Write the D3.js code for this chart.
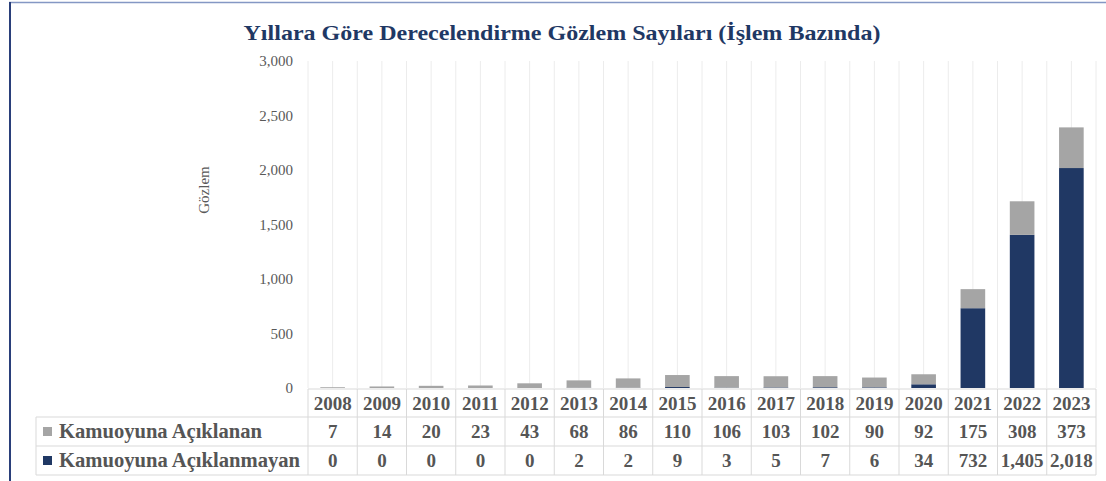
<!DOCTYPE html>
<html><head><meta charset="utf-8">
<script src="https://cdn.jsdelivr.net/npm/d3@7"></script>
<style>
html,body{margin:0;padding:0;background:#fff;}
svg{display:block;}
</style></head>
<body>
<svg id="c" width="1106" height="481" font-family="Liberation Serif, DejaVu Serif, serif"></svg>
<script>
const years = ["2008","2009","2010","2011","2012","2013","2014","2015","2016","2017","2018","2019","2020","2021","2022","2023"];
const disclosed = [7,14,20,23,43,68,86,110,106,103,102,90,92,175,308,373];
const undisclosed = [0,0,0,0,0,2,2,9,3,5,7,6,34,732,1405,2018];
const yTicks = [0,500,1000,1500,2000,2500,3000];
const seriesNames = ["Kamuoyuna Açıklanan","Kamuoyuna Açıklanmayan"];
const colors = {"Kamuoyuna Açıklanan":"#a5a5a5","Kamuoyuna Açıklanmayan":"#203864"};
const title = "Yıllara Göre Derecelendirme Gözlem Sayıları (İşlem Bazında)";
const yTitle = "Gözlem";

const FONT = "Liberation Serif, DejaVu Serif, serif";
const svg = d3.select("#c");
const W = 1106, H = 481;
const L = 308, R = 1096, T = 61, B = 388;

// frame
svg.append("line").attr("x1",9).attr("x2",W).attr("y1",2.5).attr("y2",2.5).attr("stroke","#8497c4").attr("stroke-width",1.5);
svg.append("line").attr("x1",10).attr("x2",10).attr("y1",2).attr("y2",H).attr("stroke","#2a3f7a").attr("stroke-width",2);

// title
svg.append("text").attr("x",562).attr("y",40).attr("text-anchor","middle")
  .attr("font-size",22).attr("font-weight","bold").attr("fill","#1f3864")
  .attr("textLength",637).attr("lengthAdjust","spacingAndGlyphs").text(title);

const x = d3.scaleBand().domain(years).range([L,R]).paddingInner(0.5).paddingOuter(0.25);
const y = d3.scaleLinear().domain([0,3000]).range([B,T]);
const step = x.step();

// vertical gridlines at boundaries and centers
const gx = [];
years.forEach((yr,i)=>{ gx.push(L + i*step); gx.push(L + i*step + step/2); });
gx.push(R);
svg.append("g").selectAll("line").data(gx).join("line")
  .attr("x1",d=>d).attr("x2",d=>d).attr("y1",y(3000)).attr("y2",B)
  .attr("stroke","#ececec").attr("stroke-width",1);

// y axis labels
const yAxis = d3.axisLeft(y).tickValues(yTicks).tickFormat(d3.format(",")).tickSize(0).tickPadding(0);
const ga = svg.append("g").attr("transform",`translate(${L-15},0)`).call(yAxis)
  .attr("font-family",FONT).attr("font-size",15);
ga.select(".domain").remove();
ga.selectAll("text").attr("fill","#595959").attr("dy","0.3em");

svg.append("text").attr("transform",`translate(209,190) rotate(-90)`).attr("text-anchor","middle")
  .attr("font-size",15).attr("fill","#595959").text(yTitle);

// stacked bars
const rows = years.map((yr,i)=>({year:yr,"Kamuoyuna Açıklanmayan":undisclosed[i],"Kamuoyuna Açıklanan":disclosed[i]}));
const stack = d3.stack().keys(["Kamuoyuna Açıklanmayan","Kamuoyuna Açıklanan"])(rows);
svg.append("g").selectAll("g").data(stack).join("g")
  .attr("fill",d=>colors[d.key])
  .selectAll("rect").data(d=>d).join("rect")
  .attr("x",d=>x(d.data.year)).attr("width",x.bandwidth())
  .attr("y",d=>y(d[1])).attr("height",d=>y(d[0])-y(d[1]));

// data table
const rowsY = [389,417,446,475];
const tblLeft = 36;
const g = svg.append("g");
const bc = "#d9d9d9";
g.append("line").attr("x1",L).attr("x2",R).attr("y1",rowsY[0]).attr("y2",rowsY[0]).attr("stroke",bc);
[1,2,3].forEach(k=>g.append("line").attr("x1",tblLeft).attr("x2",R).attr("y1",rowsY[k]).attr("y2",rowsY[k]).attr("stroke",bc));
for(let i=0;i<=years.length;i++){
  const xx = L + i*step;
  g.append("line").attr("x1",xx).attr("x2",xx).attr("y1",rowsY[0]).attr("y2",rowsY[3]).attr("stroke",bc);
}
g.append("line").attr("x1",tblLeft).attr("x2",tblLeft).attr("y1",rowsY[1]).attr("y2",rowsY[3]).attr("stroke",bc);

const cellFont = 19;
const tc = "#555555";
g.selectAll("text.yr").data(years).join("text").attr("class","yr")
  .attr("x",d=>x(d)+x.bandwidth()/2).attr("y",(rowsY[0]+rowsY[1])/2+6.5)
  .attr("text-anchor","middle").attr("font-size",cellFont).attr("font-weight","bold").attr("fill",tc).text(d=>d);
const fmt = d3.format(",");
const labelLen = [203, 241];
[disclosed, undisclosed].forEach((arr,k)=>{
  g.selectAll("text.v"+k).data(arr).join("text").attr("class","v"+k)
    .attr("x",(d,i)=>x(years[i])+x.bandwidth()/2).attr("y",(rowsY[k+1]+rowsY[k+2])/2+6.5)
    .attr("text-anchor","middle").attr("font-size",cellFont).attr("font-weight","bold").attr("fill",tc)
    .text(d=>fmt(d))
    .each(function(){ const w=this.getComputedTextLength(); if(w>46){ d3.select(this).attr("textLength",46).attr("lengthAdjust","spacingAndGlyphs"); } });
  const cy = (rowsY[k+1]+rowsY[k+2])/2;
  g.append("rect").attr("x",43).attr("y",cy-4.5).attr("width",9).attr("height",9).attr("fill",colors[seriesNames[k]]);
  g.append("text").attr("x",59).attr("y",cy+6.5).attr("font-size",20).attr("font-weight","bold").attr("fill",tc)
    .attr("textLength",labelLen[k]).attr("lengthAdjust","spacingAndGlyphs")
    .text(seriesNames[k]);
});
</script>
</body></html>
